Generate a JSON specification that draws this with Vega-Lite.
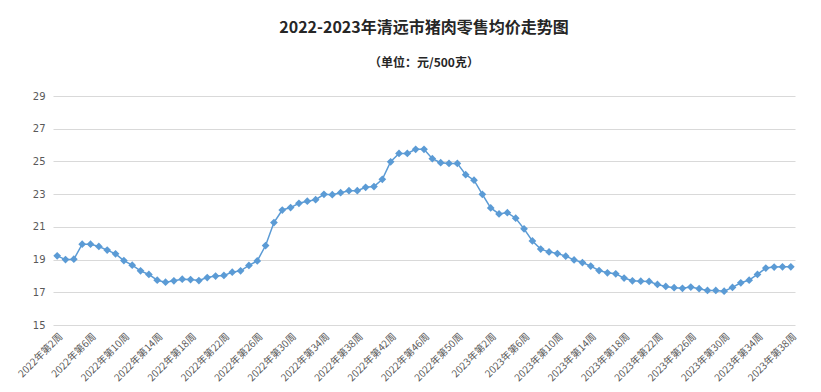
{
  "$schema": "https://vega.github.io/schema/vega-lite/v6.json",
  "width": 742,
  "height": 229,
  "autosize": {"type": "none"},
  "padding": {"left": 53, "top": 96, "right": 26, "bottom": 67},
  "background": "white",
  "title": {
    "text": "2022-2023年清远市猪肉零售均价走势图",
    "subtitle": "（单位：元/500克）",
    "anchor": "middle",
    "font": "Noto Sans CJK SC",
    "fontSize": 16,
    "fontWeight": "bold",
    "color": "#262626",
    "subtitleFont": "Noto Sans CJK SC",
    "subtitleFontSize": 12,
    "subtitleFontWeight": "bold",
    "subtitleColor": "#262626",
    "subtitlePadding": 22,
    "offset": 22
  },
  "data": {
    "values": [
      {"week": "2022年第2周", "price": 19.23},
      {"week": "2022年第3周", "price": 19.0},
      {"week": "2022年第4周", "price": 19.02},
      {"week": "2022年第5周", "price": 19.94},
      {"week": "2022年第6周", "price": 19.94},
      {"week": "2022年第7周", "price": 19.8},
      {"week": "2022年第8周", "price": 19.58},
      {"week": "2022年第9周", "price": 19.35},
      {"week": "2022年第10周", "price": 18.94},
      {"week": "2022年第11周", "price": 18.66},
      {"week": "2022年第12周", "price": 18.31},
      {"week": "2022年第13周", "price": 18.09},
      {"week": "2022年第14周", "price": 17.74},
      {"week": "2022年第15周", "price": 17.62},
      {"week": "2022年第16周", "price": 17.7},
      {"week": "2022年第17周", "price": 17.8},
      {"week": "2022年第18周", "price": 17.78},
      {"week": "2022年第19周", "price": 17.72},
      {"week": "2022年第20周", "price": 17.9},
      {"week": "2022年第21周", "price": 17.99},
      {"week": "2022年第22周", "price": 18.03},
      {"week": "2022年第23周", "price": 18.23},
      {"week": "2022年第24周", "price": 18.31},
      {"week": "2022年第25周", "price": 18.64},
      {"week": "2022年第26周", "price": 18.92},
      {"week": "2022年第27周", "price": 19.86},
      {"week": "2022年第28周", "price": 21.26},
      {"week": "2022年第29周", "price": 22.03},
      {"week": "2022年第30周", "price": 22.18},
      {"week": "2022年第31周", "price": 22.44},
      {"week": "2022年第32周", "price": 22.57},
      {"week": "2022年第33周", "price": 22.66},
      {"week": "2022年第34周", "price": 22.99},
      {"week": "2022年第35周", "price": 22.97},
      {"week": "2022年第36周", "price": 23.09},
      {"week": "2022年第37周", "price": 23.21},
      {"week": "2022年第38周", "price": 23.21},
      {"week": "2022年第39周", "price": 23.42},
      {"week": "2022年第40周", "price": 23.46},
      {"week": "2022年第41周", "price": 23.91},
      {"week": "2022年第42周", "price": 24.98},
      {"week": "2022年第43周", "price": 25.49},
      {"week": "2022年第44周", "price": 25.49},
      {"week": "2022年第45周", "price": 25.74},
      {"week": "2022年第46周", "price": 25.74},
      {"week": "2022年第47周", "price": 25.17},
      {"week": "2022年第48周", "price": 24.92},
      {"week": "2022年第49周", "price": 24.88},
      {"week": "2022年第50周", "price": 24.88},
      {"week": "2022年第51周", "price": 24.19},
      {"week": "2022年第52周", "price": 23.85},
      {"week": "2023年第1周", "price": 22.99},
      {"week": "2023年第2周", "price": 22.16},
      {"week": "2023年第3周", "price": 21.79},
      {"week": "2023年第4周", "price": 21.87},
      {"week": "2023年第5周", "price": 21.53},
      {"week": "2023年第6周", "price": 20.88},
      {"week": "2023年第7周", "price": 20.14},
      {"week": "2023年第8周", "price": 19.64},
      {"week": "2023年第9周", "price": 19.47},
      {"week": "2023年第10周", "price": 19.37},
      {"week": "2023年第11周", "price": 19.21},
      {"week": "2023年第12周", "price": 18.98},
      {"week": "2023年第13周", "price": 18.82},
      {"week": "2023年第14周", "price": 18.6},
      {"week": "2023年第15周", "price": 18.33},
      {"week": "2023年第16周", "price": 18.19},
      {"week": "2023年第17周", "price": 18.13},
      {"week": "2023年第18周", "price": 17.87},
      {"week": "2023年第19周", "price": 17.7},
      {"week": "2023年第20周", "price": 17.68},
      {"week": "2023年第21周", "price": 17.66},
      {"week": "2023年第22周", "price": 17.48},
      {"week": "2023年第23周", "price": 17.36},
      {"week": "2023年第24周", "price": 17.28},
      {"week": "2023年第25周", "price": 17.24},
      {"week": "2023年第26周", "price": 17.32},
      {"week": "2023年第27周", "price": 17.22},
      {"week": "2023年第28周", "price": 17.11},
      {"week": "2023年第29周", "price": 17.11},
      {"week": "2023年第30周", "price": 17.07},
      {"week": "2023年第31周", "price": 17.3},
      {"week": "2023年第32周", "price": 17.58},
      {"week": "2023年第33周", "price": 17.74},
      {"week": "2023年第34周", "price": 18.09},
      {"week": "2023年第35周", "price": 18.48},
      {"week": "2023年第36周", "price": 18.54},
      {"week": "2023年第37周", "price": 18.56},
      {"week": "2023年第38周", "price": 18.56}
    ]
  },
  "encoding": {
    "x": {
      "field": "week",
      "type": "ordinal",
      "sort": null,
      "scale": {"type": "point", "padding": 0.5},
      "axis": {
        "title": null,
        "values": ["2022年第2周", "2022年第6周", "2022年第10周", "2022年第14周", "2022年第18周", "2022年第22周", "2022年第26周", "2022年第30周", "2022年第34周", "2022年第38周", "2022年第42周", "2022年第46周", "2022年第50周", "2023年第2周", "2023年第6周", "2023年第10周", "2023年第14周", "2023年第18周", "2023年第22周", "2023年第26周", "2023年第30周", "2023年第34周", "2023年第38周"],
        "labelAngle": -45,
        "domain": false,
        "ticks": false,
        "grid": false,
        "labelFont": "Noto Sans CJK SC",
        "labelFontSize": 10,
        "labelColor": "#595959",
        "labelPadding": 6
      }
    },
    "y": {
      "field": "price",
      "type": "quantitative",
      "scale": {"domain": [15, 29], "zero": false, "nice": false},
      "axis": {
        "title": null,
        "values": [15, 17, 19, 21, 23, 25, 27, 29],
        "domain": false,
        "ticks": false,
        "labelPadding": 8,
        "labelFont": "DejaVu Sans",
        "labelFontSize": 10,
        "labelColor": "#595959",
        "gridColor": "#d9d9d9",
        "gridWidth": 1
      }
    }
  },
  "layer": [
    {"mark": {"type": "line", "color": "#5B9BD5", "strokeWidth": 1.5}},
    {"mark": {"type": "point", "shape": "diamond", "filled": true, "size": 60, "color": "#5B9BD5", "opacity": 1}}
  ],
  "config": {"view": {"stroke": null}}
}
